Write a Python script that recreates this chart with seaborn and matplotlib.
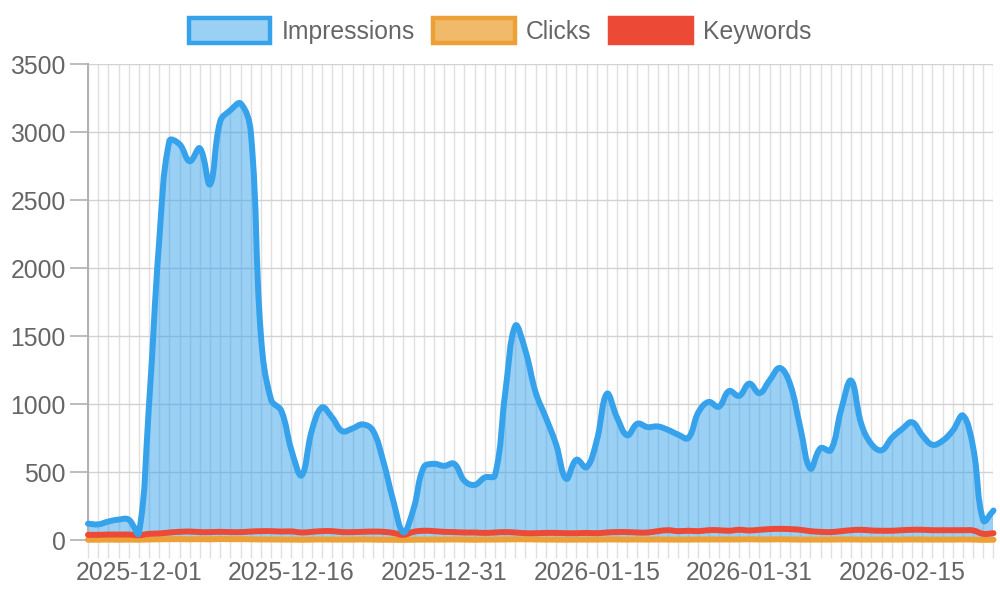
import numpy as np
import pandas as pd
import matplotlib
matplotlib.use("Agg")
import matplotlib.pyplot as plt
from matplotlib.path import Path
from matplotlib.patches import PathPatch, Patch
import seaborn as sns

# --- data ---
dates = pd.date_range("2025-11-26", "2026-02-24")
dates = dates[dates != "2026-01-24"].strftime("%Y-%m-%d").tolist()

impressions = [120, 115, 136, 150, 150, 50, 1000, 2200, 2935, 2910,
               2785, 2880, 2615, 3080, 3160, 3210, 3000, 1500, 1030, 950,
               660, 475, 805, 975, 900, 800, 820, 850, 805, 585,
               290, 57, 230, 535, 560, 545, 560, 435, 405, 460,
               475, 1075, 1575, 1390, 1085, 900, 705, 450, 590, 535,
               730, 1075, 900, 770, 855, 830, 835, 810, 775, 750,
               940, 1015, 980, 1095, 1060, 1150, 1080, 1175, 1265, 1148,
               830, 525, 675, 660, 950, 1172, 855, 705, 660, 750,
               815, 866, 770, 700, 730, 805, 915, 680, 143, 217]

clicks = [2, 2, 3, 2, 3, 2, 4, 5, 6, 6,
          5, 6, 5, 7, 6, 6, 5, 4, 4, 3,
          3, 2, 3, 4, 3, 3, 3, 4, 3, 2,
          2, 1, 2, 3, 3, 3, 4, 3, 2, 3,
          3, 4, 5, 5, 4, 3, 3, 2, 3, 3,
          3, 4, 4, 3, 4, 3, 4, 3, 3, 3,
          4, 4, 4, 4, 4, 5, 4, 4, 5, 4,
          3, 3, 3, 3, 4, 4, 3, 3, 3, 3,
          3, 4, 3, 3, 3, 3, 4, 3, 1, 2]

keywords = [38, 38, 40, 40, 40, 35, 45, 48, 55, 60,
            62, 58, 58, 60, 58, 58, 62, 65, 65, 62,
            63, 55, 60, 65, 65, 58, 58, 60, 62, 60,
            52, 38, 60, 68, 65, 60, 58, 55, 55, 52,
            55, 58, 55, 50, 50, 52, 52, 50, 50, 52,
            50, 55, 58, 58, 55, 55, 65, 72, 65, 68,
            65, 72, 72, 68, 75, 70, 75, 80, 82, 80,
            75, 65, 60, 58, 65, 72, 75, 70, 68, 68,
            72, 75, 75, 72, 72, 72, 72, 70, 45, 50]

df = pd.DataFrame({"date": dates, "Impressions": impressions,
                   "Clicks": clicks, "Keywords": keywords})

BLUE = "#36A2EB"
ORANGE = "#ECA035"
RED = "#EC4A36"
YMAX = 3500

# pixel scale of the plot area, so the curve tension looks like the original
SX, SY = 905 / 89, 476 / YMAX


def smooth_path(xs, ys, t=0.4):
    px = np.asarray(xs, float) * SX
    py = np.asarray(ys, float) * SY
    n = len(px)
    cp_prev, cp_next = [], []
    for i in range(n):
        a, b = max(i - 1, 0), min(i + 1, n - 1)
        d01 = np.hypot(px[i] - px[a], py[i] - py[a])
        d12 = np.hypot(px[b] - px[i], py[b] - py[i])
        tot = d01 + d12
        s01 = d01 / tot if tot else 0
        s12 = d12 / tot if tot else 0
        dx, dy = px[b] - px[a], py[b] - py[a]
        cp_prev.append((px[i] - t * s01 * dx, py[i] - t * s01 * dy))
        cp_next.append((px[i] + t * s12 * dx, py[i] + t * s12 * dy))
    clamp = lambda p: (p[0] / SX, min(max(p[1] / SY, 0), YMAX))
    verts = [(px[0] / SX, py[0] / SY)]
    codes = [Path.MOVETO]
    for i in range(n - 1):
        verts += [clamp(cp_next[i]), clamp(cp_prev[i + 1]), (px[i + 1] / SX, py[i + 1] / SY)]
        codes += [Path.CURVE4] * 3
    return verts, codes


def draw_fill(ax, col, color, alpha, z):
    x = np.arange(len(df))
    verts, codes = smooth_path(x, df[col].values)
    fv = verts + [(x[-1], 0), (x[0], 0), (x[0], 0)]
    fc = codes + [Path.LINETO, Path.LINETO, Path.CLOSEPOLY]
    ax.add_patch(PathPatch(Path(fv, fc), facecolor=color, alpha=alpha,
                           edgecolor="none", zorder=z))


def draw_line(ax, col, color, z, lw=4.3):
    x = np.arange(len(df))
    verts, codes = smooth_path(x, df[col].values)
    ax.add_patch(PathPatch(Path(verts, codes), facecolor="none", edgecolor=color,
                           lw=lw, capstyle="round", joinstyle="round",
                           zorder=z, clip_on=False))


sns.set_theme(style="white")
plt.rcParams["font.family"] = ["Liberation Sans", "DejaVu Sans"]

fig = plt.figure(figsize=(10, 6), dpi=100)
ax = fig.add_axes([0.088, 0.1, 0.9055, 0.7933])

draw_fill(ax, "Impressions", BLUE, 0.5, z=2)
draw_fill(ax, "Clicks", ORANGE, 0.5, z=2.5)
draw_line(ax, "Clicks", ORANGE, z=3)
draw_line(ax, "Keywords", RED, z=4)
draw_line(ax, "Impressions", BLUE, z=5)

ax.set_xlim(0, len(df) - 1)
ax.set_ylim(0, YMAX)

ax.set_xticks(range(len(df)))
ax.set_xticklabels([d if (i - 5) % 15 == 0 and i >= 5 else "" for i, d in enumerate(dates)])
ax.set_yticks(range(0, YMAX + 1, 500))

ax.set_axisbelow(True)
ax.grid(True, axis="x", color="#e0e0e0", lw=1.0, zorder=0)
ax.grid(True, axis="y", color="#d2d2d2", lw=1.0, zorder=0)
ax.tick_params(axis="x", length=13, width=1.0, color="#e0e0e0", pad=2,
               labelsize=17.8, labelcolor="#666666", bottom=True)
ax.tick_params(axis="y", length=13, width=1.2, color="#b0b0b0", pad=3,
               labelsize=17.8, labelcolor="#666666", left=True)
for s in ["top", "right"]:
    ax.spines[s].set_visible(False)
ax.spines["left"].set_color("#b0b0b0")
ax.spines["left"].set_linewidth(1.4)
ax.spines["bottom"].set_color("#b0b0b0")
ax.spines["bottom"].set_linewidth(1.4)
ax.set_xlabel("")
ax.set_ylabel("")

handles = [
    Patch(facecolor="#9BD0F5", edgecolor=BLUE, lw=3.2, label="Impressions"),
    Patch(facecolor="#F1BA6A", edgecolor=ORANGE, lw=3.2, label="Clicks"),
    Patch(facecolor=RED, edgecolor=RED, lw=3.2, label="Keywords"),
]
leg = fig.legend(handles=handles, loc="center", bbox_to_anchor=(0.5, 0.948), ncol=3,
                 frameon=False, fontsize=17.8, handlelength=3.3, handleheight=1.15,
                 handletextpad=0.45, columnspacing=0.75)
for t in leg.get_texts():
    t.set_color("#666666")

fig.savefig("out.png", dpi=100)
